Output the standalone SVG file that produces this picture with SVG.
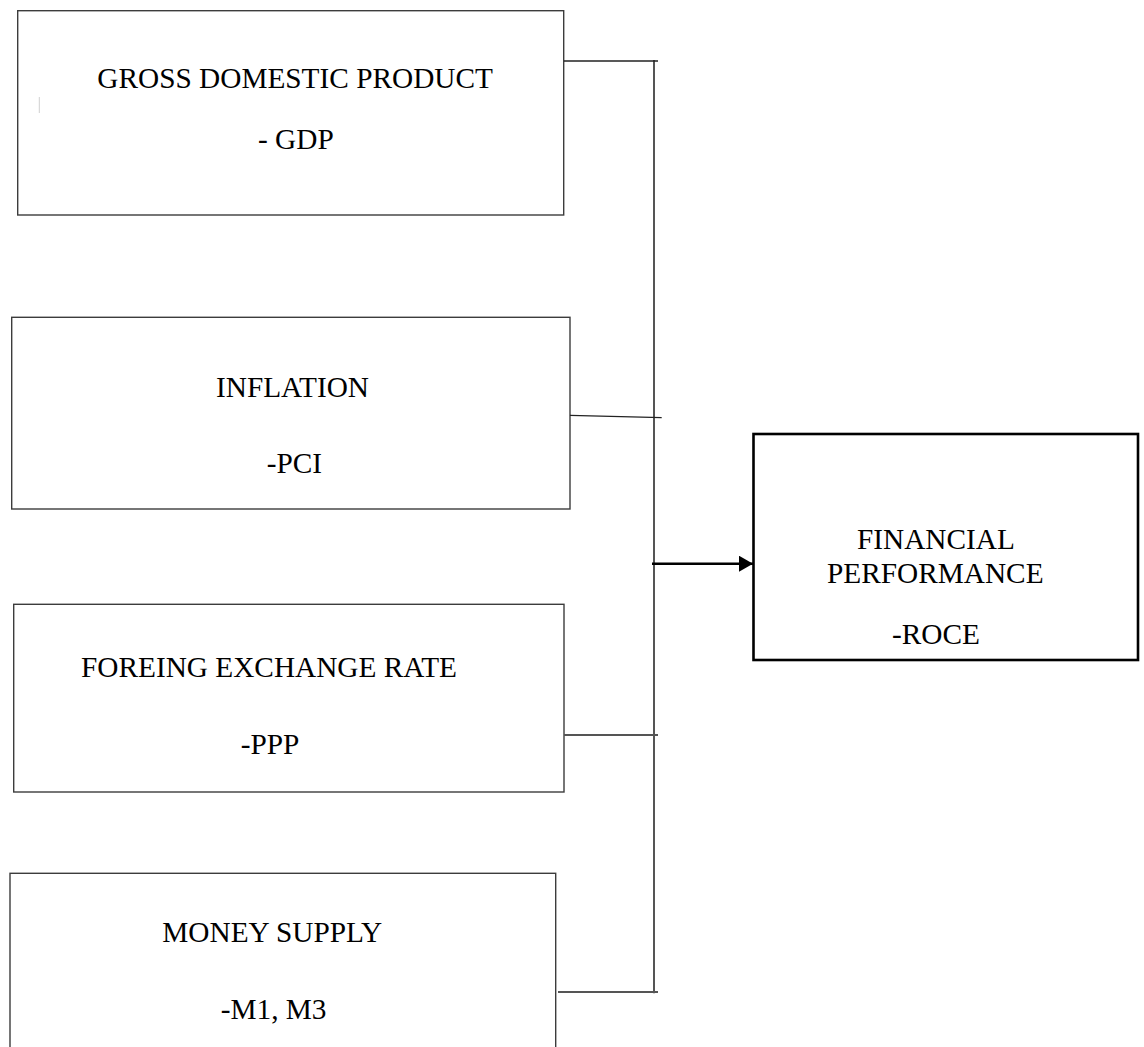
<svg xmlns="http://www.w3.org/2000/svg" width="1144" height="1047" viewBox="0 0 1144 1047">
  <defs>
    <style>
      .box { fill: #ffffff; stroke: #3c3c3c; stroke-width: 1.4; }
      .main { fill: #ffffff; stroke: #000000; stroke-width: 2.6; }
      .lbl { font-family: "Liberation Serif", "Times New Roman", serif; font-size: 29.3px; fill: #000000; }
      .conn { stroke: #555555; stroke-width: 2; fill: none; }
      .thin { stroke: #222222; stroke-width: 1.3; fill: none; }
    </style>
    <marker id="arrow" viewBox="0 0 14 16" refX="14" refY="8" markerWidth="14" markerHeight="16" markerUnits="userSpaceOnUse" orient="auto">
      <path d="M0,0 L14,8 L0,16 Z" fill="#000000"/>
    </marker>
  </defs>
  <rect width="1144" height="1047" fill="#ffffff"/>

  <g id="node-gdp">
    <rect class="box" x="17.7" y="10.7" width="546" height="204.3"/>
    <line x1="39.3" y1="97" x2="39.3" y2="113" stroke="#d0d0d0" stroke-width="1"/>
    <text class="lbl" x="97.3" y="88.3">GROSS DOMESTIC PRODUCT</text>
    <text class="lbl" x="258" y="149.3">- GDP</text>
  </g>

  <g id="node-inflation">
    <rect class="box" x="11.7" y="317.3" width="558.3" height="191.7"/>
    <text class="lbl" x="216" y="397.3">INFLATION</text>
    <text class="lbl" x="266.7" y="473.3">-PCI</text>
  </g>

  <g id="node-fx">
    <rect class="box" x="13.7" y="604.3" width="550.3" height="187.7"/>
    <text class="lbl" x="81" y="677.3">FOREING EXCHANGE RATE</text>
    <text class="lbl" x="240.7" y="754">-PPP</text>
  </g>

  <g id="node-money">
    <rect class="box" x="10" y="873.3" width="545.7" height="200"/>
    <text class="lbl" x="162.3" y="941.7">MONEY SUPPLY</text>
    <text class="lbl" x="220.7" y="1019.3">-M1, M3</text>
  </g>

  <g id="node-performance">
    <rect class="main" x="753.5" y="434" width="384.5" height="226"/>
    <text class="lbl" x="857" y="549">FINANCIAL</text>
    <text class="lbl" x="827" y="583">PERFORMANCE</text>
    <text class="lbl" x="892" y="644">-ROCE</text>
  </g>

  <g id="connectors">
    <line class="conn" x1="654" y1="60" x2="654" y2="993.3"/>
    <line class="thin" x1="564" y1="61" x2="658" y2="61"/>
    <line class="thin" x1="570" y1="415.3" x2="661.7" y2="417.7"/>
    <line class="conn" x1="564" y1="735" x2="658" y2="735"/>
    <line class="conn" x1="558" y1="992" x2="658" y2="992"/>
    <line x1="652" y1="563.7" x2="753" y2="563.7" stroke="#000000" stroke-width="2.4" marker-end="url(#arrow)"/>
  </g>
</svg>
